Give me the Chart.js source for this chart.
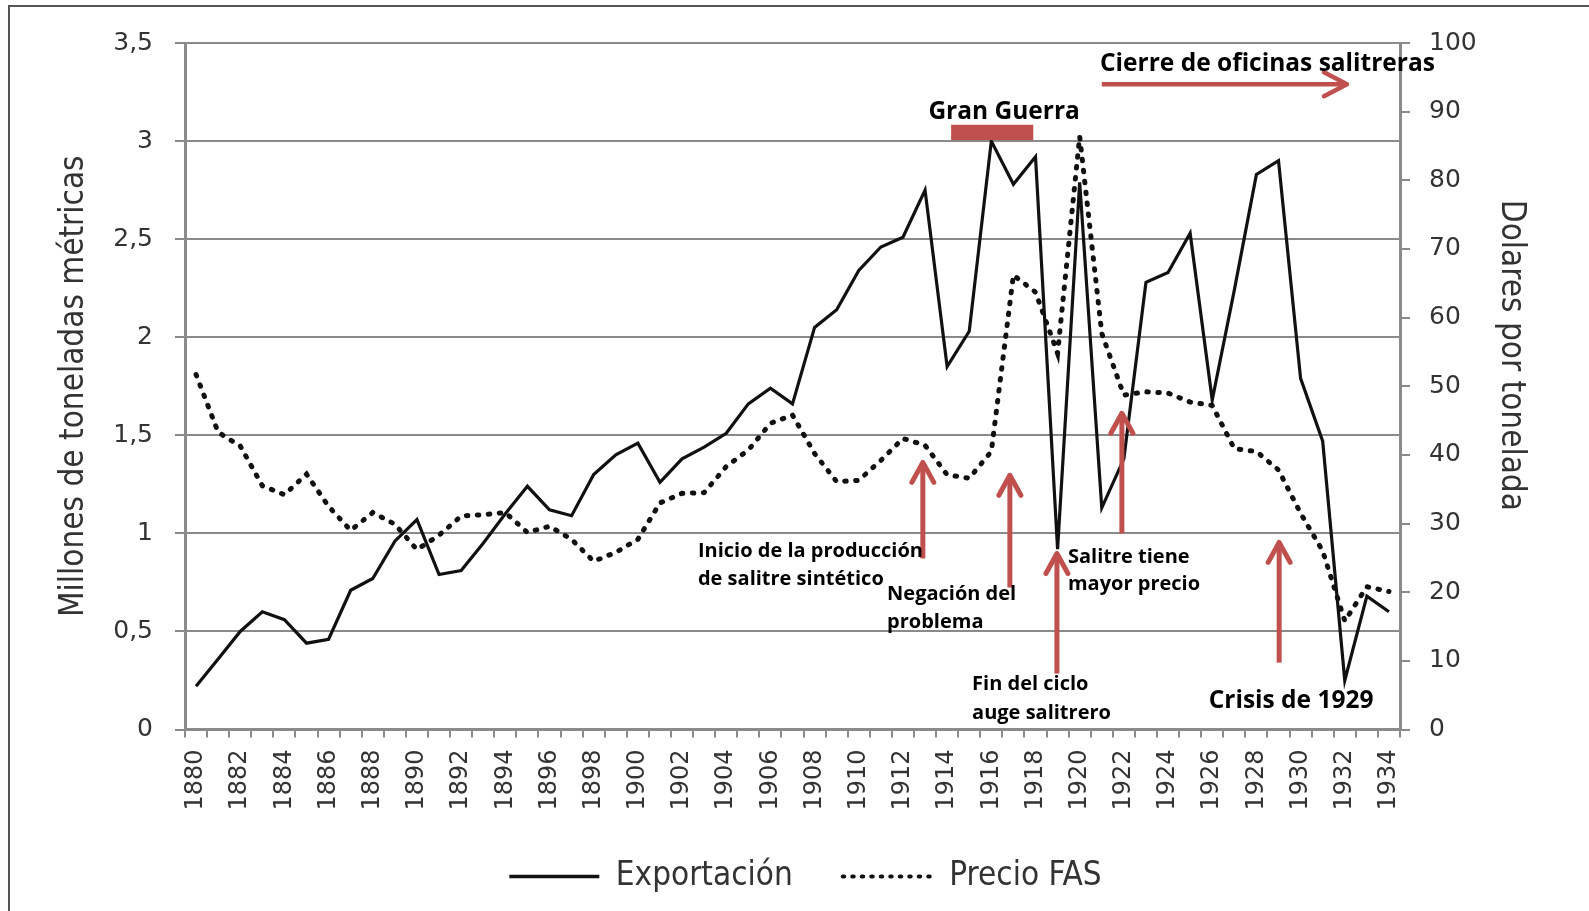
<!DOCTYPE html>
<html lang="es">
<head>
<meta charset="utf-8">
<title>Exportación y precio del salitre 1880-1934</title>
<script src="https://cdn.jsdelivr.net/npm/chart.js@4.4.1/dist/chart.umd.min.js"></script>
<style>
    html, body { margin: 0; padding: 0; background: #fff; }
    #wrap { position: relative; width: 1589px; height: 911px; overflow: hidden; }
    #marco { position: absolute; left: 8px; top: 5px; width: 1600px; height: 920px; border-left: 2px solid #555; border-top: 2px solid #555; }
    #grafico { position: absolute; left: 0; top: 0; }
</style>
</head>
<body>
<div id="wrap">
    <div id="marco"></div>
    <canvas id="grafico" width="1589" height="911"></canvas>
</div>
<script>
// Años (eje X)
const years = [
    '1880', '1881', '1882', '1883', '1884', '1885', '1886', '1887', '1888', '1889',
    '1890', '1891', '1892', '1893', '1894', '1895', '1896', '1897', '1898', '1899',
    '1900', '1901', '1902', '1903', '1904', '1905', '1906', '1907', '1908', '1909',
    '1910', '1911', '1912', '1913', '1914', '1915', '1916', '1917', '1918', '1919',
    '1920', '1921', '1922', '1923', '1924', '1925', '1926', '1927', '1928', '1929',
    '1930', '1931', '1932', '1933', '1934'
];

// Exportación, millones de toneladas métricas (eje izquierdo)
const exportacion = [
    0.22, 0.36, 0.50, 0.60, 0.56, 0.44, 0.46, 0.71, 0.77, 0.96,
    1.07, 0.79, 0.81, 0.95, 1.10, 1.24, 1.12, 1.09, 1.30, 1.40,
    1.46, 1.26, 1.38, 1.44, 1.51, 1.66, 1.74, 1.66, 2.05, 2.14,
    2.34, 2.46, 2.51, 2.75, 1.85, 2.03, 3.00, 2.78, 2.92, 0.92,
    2.79, 1.13, 1.38, 2.28, 2.33, 2.53, 1.68, 2.24, 2.83, 2.90,
    1.79, 1.47, 0.25, 0.68, 0.60
];

// Precio FAS, dólares por tonelada (eje derecho)
const precioFas = [
    51.7, 43.3, 41.3, 35.5, 34.2, 37.2, 32.5, 29.0, 31.6, 29.9,
    26.2, 28.3, 31.1, 31.3, 31.6, 28.7, 29.6, 27.7, 24.5, 25.8,
    27.7, 33.0, 34.4, 34.5, 38.3, 40.7, 44.6, 45.8, 40.2, 36.1,
    36.3, 39.2, 42.4, 41.4, 37.1, 36.6, 40.5, 66.2, 63.7, 54.8,
    86.4, 57.7, 48.7, 49.2, 49.0, 47.7, 47.2, 40.9, 40.5, 37.8,
    31.5, 26.0, 15.8, 20.8, 20.1
];

// Ticks de los ejes
const leftTicks = [0, 0.5, 1, 1.5, 2, 2.5, 3, 3.5];
const rightTicks = [0, 10, 20, 30, 40, 50, 60, 70, 80, 90, 100];

// Anotaciones: x en índice de año (fraccional), y en unidades del eje izquierdo
const rojo = '#C0504D';
const guerraBar = { from: 34.18, to: 37.9, low: 3.005, high: 3.083 };
const flechasArriba = [
    { x: 32.9, tip: 1.362, base: 0.872 },
    { x: 36.84, tip: 1.296, base: 0.724 },
    { x: 38.97, tip: 0.897, base: 0.285 },
    { x: 41.91, tip: 1.612, base: 1.0 },
    { x: 49.03, tip: 0.954, base: 0.341 }
];
const flechaCierre = { from: 41.0, to: 52.1, y: 3.29 };
const notas = [
    { text: 'Gran Guerra', x: 36.58, y: 3.15, big: true, align: 'center' },
    { text: 'Cierre de oficinas salitreras', x: 40.92, y: 3.395, big: true, align: 'left' },
    { text: 'Crisis de 1929', x: 49.57, y: 0.147, big: true, align: 'center' },
    { text: 'Inicio de la producción', x: 22.72, y: 0.908, align: 'left' },
    { text: 'de salitre sintético', x: 22.72, y: 0.765, align: 'left' },
    { text: 'Negación del', x: 31.28, y: 0.688, align: 'left' },
    { text: 'problema', x: 31.28, y: 0.545, align: 'left' },
    { text: 'Fin del ciclo', x: 35.13, y: 0.228, align: 'left' },
    { text: 'auge salitrero', x: 35.13, y: 0.085, align: 'left' },
    { text: 'Salitre tiene', x: 39.47, y: 0.877, align: 'left' },
    { text: 'mayor precio', x: 39.47, y: 0.739, align: 'left' }
];

const gridColor = '#8a8a8a';
const textColor = '#333';
const tickFont = { family: '"DejaVu Sans", Verdana, sans-serif', size: 25 };
const narrowFamily = '"Liberation Sans Narrow", "DejaVu Sans Condensed", "DejaVu Sans", sans-serif';

// Plugin para dibujar las flechas, la barra y los textos
const notasPlugin = {
    id: 'notas',
    afterDatasetsDraw(chart) {
        const { ctx, scales: { x, y, y1 } } = chart;
        ctx.save();

        // Barra "Gran Guerra"
        ctx.fillStyle = rojo;
        const bx = x.getPixelForValue(guerraBar.from);
        const bw = x.getPixelForValue(guerraBar.to) - bx;
        const by = y.getPixelForValue(guerraBar.high);
        const bh = y.getPixelForValue(guerraBar.low) - by;
        ctx.fillRect(bx, by, bw, bh);

        // Flechas verticales
        ctx.strokeStyle = rojo;
        ctx.lineWidth = 5;
        flechasArriba.forEach(f => {
            const px = x.getPixelForValue(f.x);
            const tipY = y.getPixelForValue(f.tip);
            const baseY = y.getPixelForValue(f.base);
            ctx.lineCap = 'butt';
            ctx.beginPath();
            ctx.moveTo(px, baseY);
            ctx.lineTo(px, tipY + 2);
            ctx.stroke();
            ctx.lineCap = 'round';
            ctx.lineJoin = 'round';
            ctx.beginPath();
            ctx.moveTo(px - 11, tipY + 20);
            ctx.lineTo(px, tipY);
            ctx.lineTo(px + 11, tipY + 20);
            ctx.stroke();
        });

        // Flecha horizontal "Cierre de oficinas"
        const hx1 = x.getPixelForValue(flechaCierre.from);
        const hx2 = x.getPixelForValue(flechaCierre.to);
        const hy = y.getPixelForValue(flechaCierre.y);
        ctx.lineWidth = 4.5;
        ctx.lineCap = 'butt';
        ctx.beginPath();
        ctx.moveTo(hx1, hy);
        ctx.lineTo(hx2 - 2, hy);
        ctx.stroke();
        ctx.lineCap = 'round';
        ctx.beginPath();
        ctx.moveTo(hx2 - 23, hy - 12);
        ctx.lineTo(hx2, hy);
        ctx.lineTo(hx2 - 23, hy + 12);
        ctx.stroke();

        // Textos
        ctx.fillStyle = '#000';
        ctx.textBaseline = 'middle';
        notas.forEach(n => {
            ctx.font = n.big ? 'bold 24.5px "Open Sans", sans-serif' : 'bold 20px "Open Sans", sans-serif';
            ctx.textAlign = n.align;
            ctx.fillText(n.text, x.getPixelForValue(n.x), y.getPixelForValue(n.y));
        });

        // Título del eje derecho
        ctx.save();
        ctx.translate(y1.right - 78, y1.getPixelForValue(54.5));
        ctx.rotate(Math.PI / 2);
        ctx.font = '33px ' + narrowFamily;
        ctx.fillStyle = textColor;
        ctx.textAlign = 'center';
        ctx.fillText('Dolares por tonelada', 0, 0);
        ctx.restore();

        ctx.restore();
    }
};

const canvas = document.getElementById('grafico');
new Chart(canvas.getContext('2d'), {
    type: 'line',
    data: {
        labels: years,
        datasets: [
            {
                label: 'Exportación',
                data: exportacion,
                yAxisID: 'y',
                borderColor: '#111',
                backgroundColor: '#111',
                borderWidth: 3.2,
                pointRadius: 0,
                tension: 0,
                fill: false
            },
            {
                label: 'Precio FAS',
                data: precioFas,
                yAxisID: 'y1',
                borderColor: '#111',
                backgroundColor: '#111',
                borderWidth: 5,
                borderDash: [1.5, 9.5],
                borderCapStyle: 'round',
                pointRadius: 0,
                tension: 0,
                fill: false
            }
        ]
    },
    options: {
        responsive: false,
        animation: false,
        layout: { padding: { top: 43, left: 22, right: 0, bottom: 8 } },
        plugins: {
            legend: {
                position: 'bottom',
                labels: {
                    usePointStyle: true,
                    pointStyle: 'line',
                    pointStyleWidth: 90,
                    boxWidth: 90,
                    padding: 50,
                    color: textColor,
                    font: { family: narrowFamily, size: 33 },
                    generateLabels: chart => chart.data.datasets.map((ds, i) => ({
                        text: ds.label,
                        fillStyle: ds.borderColor,
                        strokeStyle: ds.borderColor,
                        fontColor: textColor,
                        lineWidth: i === 0 ? 3.5 : 4,
                        lineDash: i === 0 ? [] : [1.5, 8],
                        lineCap: i === 0 ? 'butt' : 'round',
                        pointStyle: 'line',
                        hidden: false,
                        datasetIndex: i
                    }))
                }
            },
            tooltip: { enabled: false }
        },
        scales: {
            x: {
                offset: true,
                grid: { offset: true, drawOnChartArea: false, tickLength: 8, color: gridColor, lineWidth: 2 },
                border: { color: gridColor, width: 3 },
                ticks: {
                    autoSkip: false,
                    maxRotation: 90,
                    minRotation: 90,
                    padding: 12,
                    color: textColor,
                    font: { family: tickFont.family, size: 24 },
                    callback: (v, i) => (i % 2 === 0 ? years[i] : '')
                },
                afterFit: s => { s.height = 80.5; }
            },
            y: {
                position: 'left',
                min: 0,
                max: 3.5,
                afterBuildTicks: s => { s.ticks = leftTicks.map(v => ({ value: v })); },
                ticks: {
                    padding: 22,
                    color: textColor,
                    font: tickFont,
                    callback: v => String(v).replace('.', ',')
                },
                grid: { color: gridColor, lineWidth: 2, tickLength: 10 },
                border: { color: gridColor, width: 3 },
                title: {
                    display: true,
                    text: 'Millones de toneladas métricas',
                    color: textColor,
                    font: { family: narrowFamily, size: 33 },
                    padding: { top: 33, bottom: 0 }
                },
                afterFit: s => { s.width = 163; }
            },
            y1: {
                position: 'right',
                min: 0,
                max: 100,
                afterBuildTicks: s => { s.ticks = rightTicks.map(v => ({ value: v })); },
                ticks: { padding: 19, color: textColor, font: tickFont },
                grid: { drawOnChartArea: false, color: gridColor, lineWidth: 2, tickLength: 10 },
                border: { color: gridColor, width: 3 },
                afterFit: s => { s.width = 189; }
            }
        }
    },
    plugins: [notasPlugin]
});
</script>
</body>
</html>
